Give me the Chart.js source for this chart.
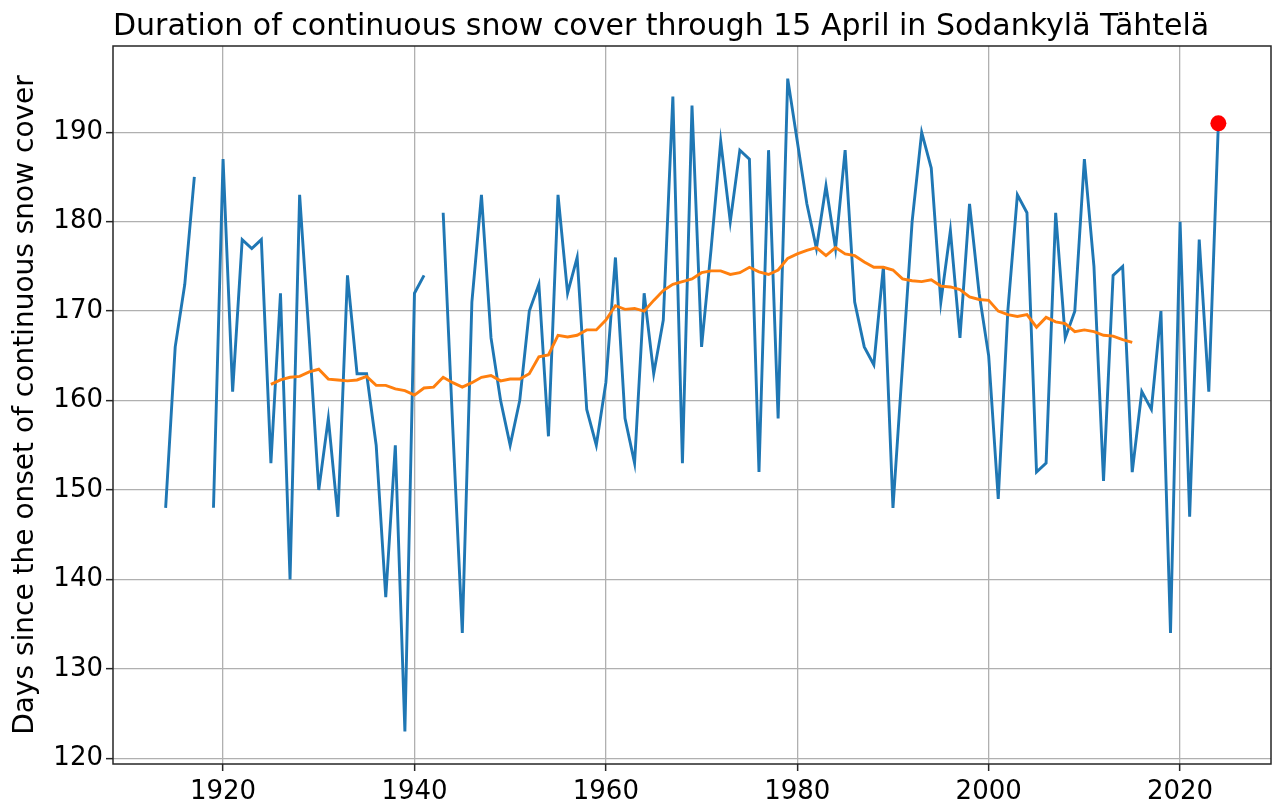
<!DOCTYPE html>
<html>
<head>
<meta charset="utf-8">
<script src="https://cdn.jsdelivr.net/npm/chart.js@4.4.0/dist/chart.umd.min.js"></script>
<style>
html,body{margin:0;padding:0;background:#ffffff;}
#wrap{width:1273px;height:805px;position:relative;}
</style>
</head>
<body>
<div id="wrap"><canvas id="c" width="1273" height="805"></canvas></div>
<script>
const chartTitle = 'Duration of continuous snow cover through 15 April in Sodankylä Tähtelä';
const yAxisLabel = 'Days since the onset of continuous snow cover';

const years = [1914,1915,1916,1917,1918,1919,1920,1921,1922,1923,1924,1925,1926,1927,1928,1929,
  1930,1931,1932,1933,1934,1935,1936,1937,1938,1939,1940,1941,1942,1943,1944,1945,1946,1947,1948,1949,
  1950,1951,1952,1953,1954,1955,1956,1957,1958,1959,1960,1961,1962,1963,1964,1965,1966,1967,1968,1969,
  1970,1971,1972,1973,1974,1975,1976,1977,1978,1979,1980,1981,1982,1983,1984,1985,1986,1987,1988,1989,
  1990,1991,1992,1993,1994,1995,1996,1997,1998,1999,2000,2001,2002,2003,2004,2005,2006,2007,2008,2009,
  2010,2011,2012,2013,2014,2015,2016,2017,2018,2019,2020,2021,2022,2023,2024];
const snowDays = [148,166,173,185,null,148,187,161,178,177,178,153,172,140,183,167,
  150,158,147,174,163,163,155,138,155,123,172,174,null,181,157,134,171,183,167,160,
  155,160,170,173,156,183,172,176,159,155,162,176,158,153,172,163,169,194,153,193,
  166,177,189,180,188,187,152,188,158,196,189,182,177,184,177,188,171,166,164,175,
  148,164,180,190,186,171,179,167,182,172,165,149,170,183,181,152,153,181,167,170,
  187,175,151,174,175,152,161,159,170,134,180,147,178,161,191];

const meanYears = [1925,1926,1927,1928,1929,1930,1931,1932,1933,1934,1935,1936,1937,1938,1939,
  1940,1941,1942,1943,1944,1945,1946,1947,1948,1949,1950,1951,1952,1953,1954,1955,1956,1957,1958,1959,
  1960,1961,1962,1963,1964,1965,1966,1967,1968,1969,1970,1971,1972,1973,1974,1975,1976,1977,1978,1979,
  1980,1981,1982,1983,1984,1985,1986,1987,1988,1989,1990,1991,1992,1993,1994,1995,1996,1997,1998,1999,
  2000,2001,2002,2003,2004,2005,2006,2007,2008,2009,2010,2011,2012,2013,2014,2015];
const meanDays = [161.8,162.3,162.6,162.7,163.2,163.5,162.4,162.3,162.2,162.3,162.7,161.7,161.7,161.3,161.1,
  160.6,161.4,161.5,162.6,162.0,161.5,162.0,162.6,162.8,162.2,162.4,162.4,163.0,164.9,165.1,167.3,167.1,167.3,167.9,167.9,
  169.0,170.6,170.2,170.3,170.0,171.2,172.3,173.0,173.3,173.6,174.3,174.5,174.5,174.1,174.3,174.9,174.4,174.1,174.6,175.9,
  176.4,176.8,177.1,176.2,177.1,176.4,176.2,175.5,174.9,174.9,174.6,173.6,173.4,173.3,173.5,172.8,172.7,172.4,171.6,171.3,
  171.2,170.0,169.6,169.4,169.6,168.2,169.3,168.8,168.6,167.7,167.9,167.7,167.3,167.2,166.8,166.5];

const highlightYears = [2024];
const highlightDays = [191];

const xTicks = [1920,1940,1960,1980,2000,2020];
const yTicks = [120,130,140,150,160,170,180,190];

const FONT = 'DejaVu Sans';

const framePlugin = {
  id: 'frame',
  afterDraw(chart) {
    const {ctx, chartArea: a} = chart;
    ctx.save();
    ctx.strokeStyle = '#262626';
    ctx.lineWidth = 1.5;
    ctx.strokeRect(a.left, a.top, a.right - a.left, a.bottom - a.top);
    ctx.restore();
  }
};
const titlePlugin = {
  id: 'leftTitle',
  afterDraw(chart) {
    const {ctx, chartArea: a} = chart;
    ctx.save();
    ctx.fillStyle = '#000';
    ctx.font = '30px "' + FONT + '"';
    ctx.textAlign = 'left';
    ctx.textBaseline = 'alphabetic';
    ctx.fillText(chartTitle, a.left, 35);
    ctx.restore();
  }
};

new Chart(document.getElementById('c').getContext('2d'), {
  type: 'line',
  data: {
    datasets: [
      {
        data: highlightYears.map((x, i) => ({x: x, y: highlightDays[i]})),
        showLine: false,
        pointRadius: 8,
        pointBackgroundColor: '#ff0000',
        pointBorderColor: '#ff0000',
        pointBorderWidth: 0,
        order: 0
      },
      {
        data: meanYears.map((x, i) => ({x: x, y: meanDays[i]})),
        borderColor: '#ff7f0e',
        borderWidth: 2.9,
        pointRadius: 0,
        tension: 0,
        order: 1
      },
      {
        data: years.map((x, i) => ({x: x, y: snowDays[i]})),
        borderColor: '#1f77b4',
        borderWidth: 2.9,
        pointRadius: 0,
        tension: 0,
        spanGaps: false,
        order: 2
      }
    ]
  },
  options: {
    responsive: false,
    animation: false,
    layout: {autoPadding: false, padding: {top: 46, right: 2, left: 0, bottom: 0}},
    plugins: {legend: {display: false}, tooltip: {enabled: false}, title: {display: false}},
    scales: {
      x: {
        type: 'linear',
        min: 1908.5,
        max: 2029.5,
        afterBuildTicks: s => { s.ticks = xTicks.map(v => ({value: v})); },
        afterFit: s => { s.height = 41; s.paddingLeft = 0; s.paddingRight = 0; },
        grid: {color: '#b0b0b0', lineWidth: 1.3, tickLength: 7, tickColor: '#262626', tickWidth: 1.5},
        border: {display: false},
        ticks: {font: {family: FONT, size: 26}, color: '#000', padding: 6, maxRotation: 0, autoSkip: false,
                callback: v => String(v)}
      },
      y: {
        min: 119.35,
        max: 199.65,
        afterBuildTicks: s => { s.ticks = yTicks.map(v => ({value: v})); },
        afterFit: s => { s.width = 113; s.paddingTop = 0; s.paddingBottom = 0; },
        grid: {color: '#b0b0b0', lineWidth: 1.3, tickLength: 7, tickColor: '#262626', tickWidth: 1.5},
        border: {display: false},
        ticks: {font: {family: FONT, size: 26}, color: '#000', padding: 3, autoSkip: false},
        title: {display: true, text: yAxisLabel, color: '#000', font: {family: FONT, size: 28}, padding: {top: 9, bottom: 0}}
      }
    }
  },
  plugins: [framePlugin, titlePlugin]
});
</script>
</body>
</html>
